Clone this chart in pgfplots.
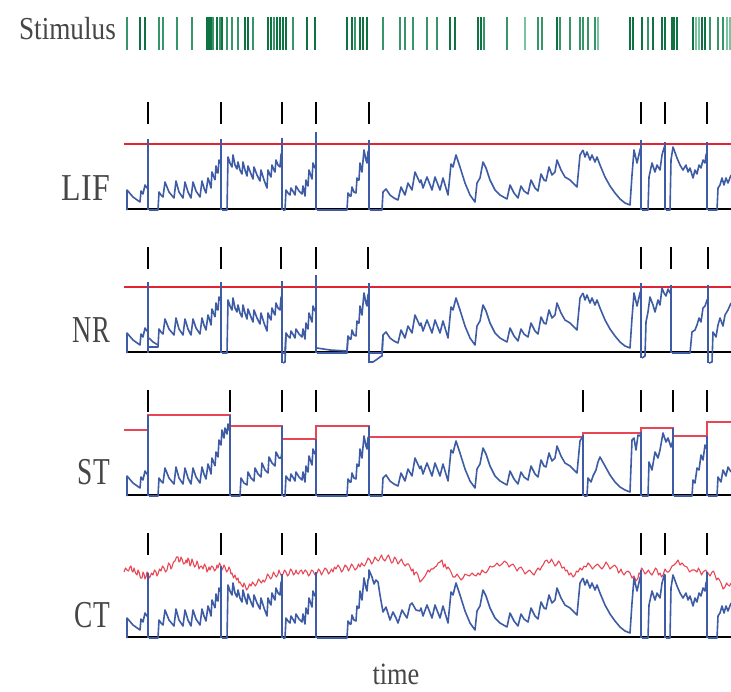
\documentclass[border=0pt]{standalone}
\usepackage{pgfplots}
\pgfplotsset{compat=1.18}
\usepackage{pgfplotstable}
\usepackage{fontspec}
\setmainfont{Liberation Serif}
\definecolor{trace}{RGB}{62,92,165}
\definecolor{thr}{RGB}{225,35,50}
\definecolor{thrst}{RGB}{232,70,85}
\definecolor{stimD}{RGB}{15,115,65}
\definecolor{stimM}{RGB}{55,150,105}
\definecolor{stimL}{RGB}{120,195,160}
\definecolor{lab}{RGB}{70,70,70}

% LIF membrane trace segments (pixel coords, baseline 210)
\pgfplotstableread{
x y
127 210
127 190
133 197
140 202
141 191
143 194
145 185
147 188
148 186
}\SA
\pgfplotstableread{
x y
149 210
158 210
159 192
161 195
163 197
165 182
169 192
174 198
176 181
179 192
183 198
185 182
188 192
191 198
193 182
196 191
200 197
202 181
204 188
206 193
208 178
210 184
211 188
212 172
214 177
215 180
}\SBa
\pgfplotstableread{
x y
215 180
216 166
217 172
218 173
219 160
220 163
221 160
}\SBb
\pgfplotstableread{
x y
222 210
227 210
228 157
230 163
232 167
233 155
235 165
237 169
238 162
240 170
242 174
243 162
245 170
247 176
248 166
251 174
253 179
254 167
257 175
260 181
261 170
264 180
267 188
268 170
270 175
271 177
272 165
274 170
275 172
276 160
278 165
280 167
281 155
282 152
}\SC
\pgfplotstableread{
x y
283 210
285 210
286 190
288 193
290 195
291 188
294 193
295 195
296 186
299 191
302 194
303 186
304 191
305 196
306 180
307 184
308 186
309 170
311 176
312 179
313 163
315 168
316 165
}\SD
\pgfplotstableread{
x y
317 210
347 210
348 193
350 196
351 196
352 187
354 192
356 193
357 178
358 180
359 180
360 163
362 172
364 150
366 160
367 163
368 152
369 150
}\SE
\pgfplotstableread{
x y
370 210
382 210
383 192
386 189
390 195
394 198
398 200
401 187
405 195
408 183
412 190
415 172
420 183
}\SFa
\pgfplotstableread{
x y
420 183
421 180
423 188
427 177
432 190
435 177
440 190
443 178
448 195
451 164
453 167
456 155
460 167
465 183
470 195
475 202
477 183
480 178
483 162
486 168
490 180
495 190
500 195
507 199
510 185
514 193
518 198
521 186
524 191
528 194
531 180
535 188
538 191
541 174
544 180
546 181
549 167
552 175
555 172
557 160
561 170
565 177
570 180
573 183
577 187
580 155
583 150
}\SFb
\pgfplotstableread{
x y
583 150
585 157
587 152
590 160
592 155
595 162
597 157
600 165
605 177
610 186
615 193
620 199
625 203
630 205
632 175
634 150
637 163
640 150
641 147
}\SFc
\pgfplotstableread{
x y
642 210
648 210
649 177
652 163
655 172
657 165
660 170
662 155
664 148
665 146
}\SG
\pgfplotstableread{
x y
666 210
670 210
671 160
673 147
677 158
680 165
683 170
686 165
688 172
690 168
693 178
695 170
697 174
699 165
701 168
703 160
705 163
706 155
707 152
}\SH
\pgfplotstableread{
x y
708 210
717 210
718 188
720 185
722 178
724 185
726 178
728 183
731 175
}\SI

\begin{document}
\begin{tikzpicture}
\begin{axis}[scale only axis, width=731pt, height=691pt,
  xmin=0, xmax=731, ymin=0, ymax=691, y dir=reverse,
  hide axis, clip=true, unbounded coords=jump,
  tr/.style={color=trace, line width=1.6pt, line join=round},
  sp/.style={only marks, mark=|, mark size=11pt, black, line width=1.4pt},
  st/.style={only marks, mark=|, mark size=16.5pt, line width=2.1pt}]

% ---------------- Stimulus ----------------
\addplot[st, stimD] coordinates {(140,33.5)(145,33.5)(207,33.5)(209,33.5)(211,33.5)(217,33.5)(222,33.5)(245,33.5)(248,33.5)(268,33.5)(271,33.5)(277,33.5)(280,33.5)(283,33.5)(286,33.5)(307,33.5)(315,33.5)(347,33.5)(352,33.5)(360,33.5)(363,33.5)(367,33.5)(450,33.5)(455,33.5)(478,33.5)(481,33.5)(557,33.5)(630,33.5)(633,33.5)(642,33.5)(653,33.5)(662,33.5)(665,33.5)(672,33.5)(674,33.5)(677,33.5)(693,33.5)(702,33.5)(705,33.5)};
\addplot[st, stimM] coordinates {(127,33.5)(159,33.5)(163,33.5)(177,33.5)(192,33.5)(213,33.5)(220,33.5)(227,33.5)(232,33.5)(238,33.5)(253,33.5)(274,33.5)(293,33.5)(355,33.5)(383,33.5)(400,33.5)(405,33.5)(413,33.5)(427,33.5)(437,33.5)(484,33.5)(507,33.5)(538,33.5)(542,33.5)(560,33.5)(570,33.5)(580,33.5)(583,33.5)(588,33.5)(595,33.5)(648,33.5)(710,33.5)(718,33.5)(723,33.5)};
\addplot[st, stimL] coordinates {(525,33.5)(598,33.5)(696,33.5)(699,33.5)(727,33.5)(730,33.5)};

% ---------------- LIF ----------------
\addplot[black, line width=1.5pt] coordinates {(126,209)(731,209)};
\addplot[thr, line width=1.5pt] coordinates {(124,144)(731,144)};
\addplot[tr] table[x=x, y=y] {\SA};
\addplot[tr] table[x=x, y=y] {\SBa};
\addplot[tr] table[x=x, y=y] {\SBb};
\addplot[tr] table[x=x, y=y] {\SC};
\addplot[tr] table[x=x, y=y] {\SD};
\addplot[tr] table[x=x, y=y] {\SE};
\addplot[tr] table[x=x, y=y] {\SFa};
\addplot[tr] table[x=x, y=y] {\SFb};
\addplot[tr] table[x=x, y=y] {\SFc};
\addplot[tr] table[x=x, y=y] {\SG};
\addplot[tr] table[x=x, y=y] {\SH};
\addplot[tr] table[x=x, y=y] {\SI};
\addplot[tr] coordinates {(148,210)(148,139)(148,nan)(221,210)(221,139)(221,nan)(282,210)(282,138)(282,nan)(316,210)(316,132)(316,nan)(369,210)(369,140)(369,nan)(641,210)(641,140)(641,nan)(665,210)(665,142)(665,nan)(707,210)(707,142)};
\addplot[sp] coordinates {(148,113)(221,113)(282,113)(316,113)(369,113)(641,113)(665,113)(707,113)};

% ---------------- NR ----------------
\addplot[black, line width=1.5pt] coordinates {(126,352)(731,352)};
\addplot[thr, line width=1.5pt] coordinates {(124,287)(731,287)};
\addplot[tr] table[x=x, y expr=\thisrow{y}+143] {\SA};
\addplot[tr] coordinates {(149,338)(153,342)(158,345)};
\addplot[tr] table[x=x, y expr=\thisrow{y}+137, skip first n=2] {\SBa};
\addplot[tr] table[x=x, y expr=\thisrow{y}+137] {\SBb};
\addplot[tr] table[x=x, y expr=\thisrow{y}+143] {\SC};
\addplot[tr] coordinates {(283,363)(285,362)(286,333)};
\addplot[tr] table[x=x, y expr=\thisrow{y}+143, skip first n=2] {\SD};
\addplot[tr] coordinates {(317,348)(330,350)(347,351)(348,336)};
\addplot[tr] table[x=x, y expr=\thisrow{y}+143, skip first n=2] {\SE};
\addplot[tr] coordinates {(370,362)(373,362)(376,360)(380,357)(382,356)(383,335)};
\addplot[tr] table[x=x, y expr=\thisrow{y}+143, skip first n=2] {\SFa};
\addplot[tr] table[x=x, y expr=\thisrow{y}+143] {\SFb};
\addplot[tr] table[x=x, y expr=\thisrow{y}+143] {\SFc};
\addplot[tr] coordinates {(642,358)(645,356)(646,322)(648,312)(650,297)(653,305)(655,312)(658,300)(660,305)(662,288)(664,293)(666,296)(668,289)(670,293)(671,290)};
\addplot[tr] coordinates {(672,353)(690,353)(692,332)(695,330)(697,325)(699,318)(701,322)(703,308)(705,306)(707,300)(708,299)};
\addplot[tr] coordinates {(709,363)(712,362)(713,332)(716,337)(718,325)(720,318)(723,326)(725,315)(728,310)(731,303)};
\addplot[tr] coordinates {(148,353)(148,282)(148,nan)(221,353)(221,282)(221,nan)(282,363)(282,281)(282,nan)(316,353)(316,275)(316,nan)(369,363)(369,283)(369,nan)(641,358)(641,283)(641,nan)(671,353)(671,285)(671,nan)(708,363)(708,285)};
\addplot[sp] coordinates {(148,258)(221,258)(281,258)(316,258)(368,258)(641,258)(671,258)(708,258)};

% ---------------- ST ----------------
\addplot[black, line width=1.5pt] coordinates {(126,495)(731,495)};
\addplot[thrst, line width=1.5pt] coordinates {(124,430)(148,430)(148,415)(230,415)(230,426)(282,426)(282,439)(316,439)(316,426)(369,426)(369,437)(583,437)(583,433)(641,433)(641,428)(673,428)(673,436)(707,436)(707,422)(731,422)};
\addplot[tr] table[x=x, y expr=\thisrow{y}+286] {\SA};
\addplot[tr] table[x=x, y expr=\thisrow{y}+286] {\SBa};
\addplot[tr] table[x=x, y expr=\thisrow{y}+286] {\SD};
\addplot[tr] table[x=x, y expr=\thisrow{y}+286] {\SE};
\addplot[tr] table[x=x, y expr=\thisrow{y}+286] {\SFa};
\addplot[tr] table[x=x, y expr=\thisrow{y}+286] {\SFb};
\addplot[tr] coordinates {(215,466)(216,452)(218,457)(219,440)(221,445)(222,430)(224,438)(225,428)(227,434)(228,424)(229,430)(230,428)};
\addplot[tr] coordinates {(231,496)(240,496)(241,478)(244,483)(247,485)(248,472)(251,478)(254,481)(255,468)(258,474)(261,477)(262,463)(265,470)(268,473)(269,457)(272,463)(275,466)(276,452)(279,458)(281,458)(282,452)};
\addplot[tr] coordinates {(584,496)(587,496)(588,478)(591,482)(593,476)(596,470)(598,462)(600,457)(605,466)(610,475)(615,482)(620,487)(625,490)(630,492)(632,440)(634,438)(636,450)(638,435)(640,436)(641,434)};
\addplot[tr] coordinates {(642,496)(648,496)(649,462)(652,470)(655,452)(658,458)(660,450)(663,433)(666,442)(668,438)(671,447)(673,440)};
\addplot[tr] coordinates {(674,496)(692,496)(693,480)(695,483)(697,468)(699,470)(701,455)(703,460)(705,445)(706,448)(707,444)};
\addplot[tr] coordinates {(708,496)(717,496)(718,477)(721,482)(723,470)(726,476)(728,467)(731,472)};
\addplot[tr] coordinates {(148,496)(148,415)(148,nan)(230,496)(230,415)(230,nan)(282,496)(282,426)(282,nan)(316,496)(316,439)(316,nan)(369,496)(369,426)(369,nan)(583,496)(583,435)(583,nan)(641,496)(641,432)(641,nan)(673,496)(673,428)(673,nan)(707,496)(707,436)};
\addplot[sp] coordinates {(148,401)(230,401)(282,401)(316,401)(369,401)(583,401)(641,401)(673,401)(707,401)};

% ---------------- CT ----------------
\addplot[black, line width=1.5pt] coordinates {(126,637)(731,637)};
\addplot[thrst, line width=1.1pt, line join=round] coordinates {(124,572)(125.5,568)(127,570)(128.5,571)(130,567)(131,566)(132,571)(133,572)(134,568)(135.5,573)(137,575)(138,570)(139,572)(140.5,578)(142,578)(143,572)(144,574)(145,579)(146,577)(147,572)(148,573)(149,578)(150,577)(151.5,573)(153,575)(154.5,570)(156,572)(157,576)(158,574)(159.5,569)(161,571)(162.5,566)(164,568)(165.5,572)(167,570)(168.5,563)(170,565)(171,569)(172,567)(173.5,562)(175,561)(176.5,557)(178,557)(179,562)(180,561)(181,557)(182,559)(183.5,564)(185,563)(186,560)(187,563)(188,558)(189,560)(190,566)(191,564)(192,559)(193,562)(194.5,567)(196,565)(197,561)(198,564)(199,569)(200,567)(201.5,566)(203,569)(204.5,564)(206,567)(207,572)(208,570)(209,567)(210,570)(211.5,566)(213,567)(214.5,571)(216,569)(217,565)(218,568)(219.5,563)(221,566)(222,570)(223,568)(224,565)(225,567)(226.5,572)(228,570)(229,567)(230,569)(231,574)(232,573)(233.5,578)(235,575)(236.5,580)(238,578)(239,583)(240,582)(241.5,585)(243,587)(244,583)(245,585)(246.5,590)(248,588)(249.5,584)(251,586)(252.5,582)(254,584)(255.5,586)(257,583)(258.5,579)(260,581)(261.5,583)(263,580)(264.5,582)(266,579)(267.5,574)(269,576)(270.5,579)(272,577)(273.5,572)(275,575)(276.5,577)(278,574)(279,570)(280,573)(281.5,576)(283,574)(284.5,570)(286,572)(287.5,576)(289,574)(290.5,569)(292,571)(293.5,575)(295,573)(296,570)(297,573)(298.5,574)(300,571)(301.5,570)(303,574)(305,570)(307,572)(308.5,576)(310,574)(311.5,570)(313,571)(315,575)(317,573)(318.5,569)(320,571)(321.5,575)(323,572)(325,568)(327,570)(328.5,574)(330,572)(331.5,569)(333,572)(334.5,567)(336,569)(338,565)(340,568)(341.5,572)(343,570)(345,565)(347,567)(348.5,571)(350,568)(351.5,564)(353,566)(355,570)(357,568)(358.5,564)(360,567)(361.5,563)(363,565)(364.5,566)(366,563)(368,558)(370,560)(371.5,564)(373,562)(375,557)(377,560)(378.5,561)(380,558)(381.5,555)(383,559)(385,561)(387,557)(388.5,555)(390,559)(391.5,563)(393,562)(394.5,557)(396,559)(398,564)(400,561)(401.5,559)(403,563)(405,566)(407,564)(408.5,564)(410,567)(411.5,571)(413,569)(414,575)(415,573)(416.5,572)(418,575)(420,582)(422,580)(423.5,578)(425,576)(426.5,573)(428,570)(429.5,572)(431,569)(433,569)(435,567)(436.5,566)(438,563)(440,562)(442,560)(443.5,567)(445,564)(446.5,569)(448,567)(449.5,569)(451,572)(453,577)(455,577)(457,574)(459,577)(461,580)(463,578)(465,574)(467,575)(469.5,576)(472,573)(474,575)(476,576)(478,573)(480,575)(482,570)(484,572)(486,573)(488,570)(490,566)(492,567)(494.5,566)(497,563)(499.5,566)(502,564)(504.5,561)(507,563)(509,567)(511,565)(513,564)(515,567)(517,571)(519,568)(521,567)(523,570)(525,574)(527,572)(529.5,570)(532,573)(534,575)(536,571)(538,568)(540,570)(541.5,567)(543,565)(545,561)(547,560)(548.5,563)(550,562)(551.5,559)(553,562)(555,566)(557,564)(558.5,561)(560,563)(562,568)(564,567)(565.5,571)(567,570)(569,575)(571,573)(573,577)(575,575)(576.5,571)(578,572)(580,568)(582,570)(584,566)(586,567)(588,563)(590,565)(592.5,569)(595,566)(597.5,564)(600,567)(602,569)(604,566)(606,562)(608,565)(610,569)(612,567)(614.5,565)(617,568)(618.5,573)(620,571)(621,569)(622,572)(624,575)(626,572)(628,571)(630,573)(632,578)(634,576)(636,581)(638,578)(639,573)(640,574)(641.5,568)(643,570)(645,574)(647,572)(648.5,570)(650,573)(652,575)(654,571)(655.5,568)(657,570)(658.5,575)(660,573)(661.5,577)(663,575)(665,569)(667,572)(668.5,572)(670,570)(672,566)(674,565)(676,563)(678,560)(680,565)(682,563)(684.5,566)(687,567)(689.5,572)(692,570)(694.5,570)(697,572)(698.5,568)(700,571)(701.5,575)(703,572)(705.5,570)(708,573)(710,576)(712,572)(713.5,571)(715,575)(716.5,580)(718,578)(719.5,580)(721,583)(723,589)(725,587)(726.5,583)(728,585)(729.5,586)(731,583)};
\addplot[tr] table[x=x, y expr=\thisrow{y}+428] {\SA};
\addplot[tr] table[x=x, y expr=\thisrow{y}+428] {\SBa};
\addplot[tr] table[x=x, y expr=\thisrow{y}+428] {\SBb};
\addplot[tr] table[x=x, y expr=\thisrow{y}+428] {\SC};
\addplot[tr] table[x=x, y expr=\thisrow{y}+428] {\SD};
\addplot[tr] table[x=x, y expr=\thisrow{y}+428] {\SE};
\addplot[tr] table[x=x, y expr=\thisrow{y}+428] {\SFb};
\addplot[tr] table[x=x, y expr=\thisrow{y}+428] {\SFc};
\addplot[tr] table[x=x, y expr=\thisrow{y}+428] {\SG};
\addplot[tr] table[x=x, y expr=\thisrow{y}+428] {\SH};
\addplot[tr] table[x=x, y expr=\thisrow{y}+428] {\SI};
\addplot[tr] coordinates {(369,578)(369,570)(372,577)(374,584)(376,580)(378,582)(380,595)(383,612)(386,607)(390,620)(393,612)(396,618)(398,623)(402,610)(405,615)(407,618)(410,605)(412,603)(416,610)(420,611)};
\addplot[tr] coordinates {(148,638)(148,573)(148,nan)(221,638)(221,566)(221,nan)(282,638)(282,574)(282,nan)(316,638)(316,572)(316,nan)(641,638)(641,570)(641,nan)(665,638)(665,575)(665,nan)(707,638)(707,572)};
\addplot[sp] coordinates {(148,544)(221,544)(282,544)(316,544)(641,544)(665,544)(707,544)};

% ---------------- labels ----------------
\node[anchor=base east, lab, inner sep=0pt, font=\fontsize{32}{32}\selectfont, xscale=0.85] at (axis cs:116,39) {Stimulus};
\node[anchor=base east, lab, inner sep=0pt, font=\fontsize{38}{38}\selectfont, xscale=0.84] at (axis cs:110,200) {LIF};
\node[anchor=base east, lab, inner sep=0pt, font=\fontsize{38}{38}\selectfont, xscale=0.70] at (axis cs:110,342) {NR};
\node[anchor=base east, lab, inner sep=0pt, font=\fontsize{38}{38}\selectfont, xscale=0.72] at (axis cs:110,484) {ST};
\node[anchor=base east, lab, inner sep=0pt, font=\fontsize{38}{38}\selectfont, xscale=0.72] at (axis cs:110,627) {CT};
\node[anchor=base, lab, inner sep=0pt, font=\fontsize{31}{31}\selectfont, xscale=0.85] at (axis cs:396,684) {time};
\end{axis}
\pgfresetboundingbox
\path (current axis.south west) rectangle (current axis.north east);
\end{tikzpicture}
\end{document}
